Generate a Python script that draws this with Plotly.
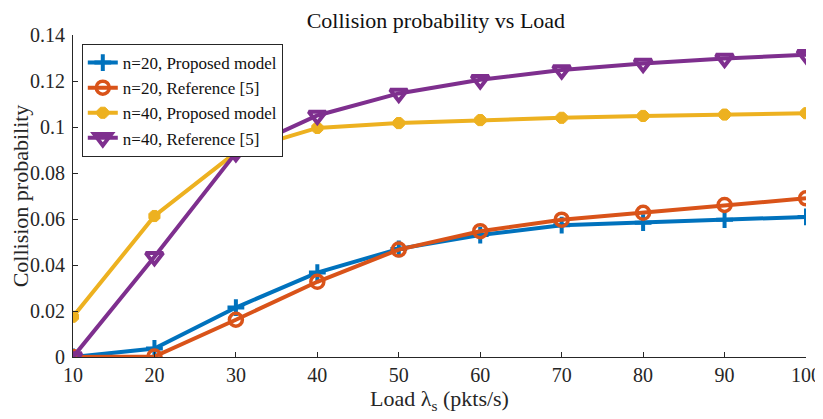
import plotly.graph_objects as go

load = [10, 20, 30, 40, 50, 60, 70, 80, 90, 100]
n20_proposed = [0.0, 0.0037, 0.0215, 0.0367, 0.0470, 0.0530, 0.0573, 0.0584, 0.0597, 0.0609]
n20_reference = [0.0, 0.0002, 0.0162, 0.0327, 0.0467, 0.0547, 0.0597, 0.0627, 0.0661, 0.0690]
n40_proposed = [0.0175, 0.0613, 0.0890, 0.0996, 0.1017, 0.1030, 0.1040, 0.1048, 0.1054, 0.1060]
n40_reference = [0.0, 0.0436, 0.0888, 0.1050, 0.1146, 0.1205, 0.1248, 0.1276, 0.1298, 0.1314]

x_ticks = [10, 20, 30, 40, 50, 60, 70, 80, 90, 100]
y_ticks = [0, 0.02, 0.04, 0.06, 0.08, 0.10, 0.12, 0.14]
y_tick_labels = ["0", "0.02", "0.04", "0.06", "0.08", "0.1", "0.12", "0.14"]

FONT = "Liberation Serif, Times New Roman, serif"
INK = "#262626"

series = [
    ("n=20, Proposed model", n20_proposed, "#0072BD", dict(symbol="cross-thin-open", size=12, line=dict(width=4, color="#0072BD"))),
    ("n=20, Reference [5]", n20_reference, "#D95319", dict(symbol="circle-open", size=13, line=dict(width=3.5, color="#D95319"))),
    ("n=40, Proposed model", n40_proposed, "#EDB120", dict(symbol="octagon", size=12, color="#EDB120", line=dict(width=1, color="#EDB120"))),
    ("n=40, Reference [5]", n40_reference, "#7E2F8E", dict(symbol="triangle-down-open", size=15, line=dict(width=4, color="#7E2F8E"))),
]

fig = go.Figure()
for name, ys, color, marker in series:
    fig.add_trace(go.Scatter(
        x=load, y=ys, name=name, mode="lines+markers",
        line=dict(color=color, width=4),
        marker=marker,
    ))

# page body has an 8px margin, so the figure is 8px smaller than the window
fig.update_layout(
    width=815, height=411,
    paper_bgcolor="white", plot_bgcolor="white",
    margin=dict(l=65, r=17, t=27, b=62, autoexpand=False),
    font=dict(family=FONT, size=20, color=INK),
    title=dict(text="Collision probability vs Load", x=0.525, xanchor="center",
               y=0.971, yanchor="middle", font=dict(family=FONT, size=22, color="#111111")),
    showlegend=True,
    legend=dict(x=0.012, y=0.972, xanchor="left", yanchor="top",
                bgcolor="white", bordercolor=INK, borderwidth=1,
                font=dict(family=FONT, size=17, color="#111111"),
                itemwidth=30, tracegroupgap=0),
)
fig.update_xaxes(
    range=[10, 100], tickvals=x_ticks, showgrid=False, zeroline=False,
    showline=True, linecolor=INK, linewidth=1, automargin=False,
    ticks="inside", ticklen=5, tickcolor=INK,
    tickfont=dict(family=FONT, size=20, color=INK),
    ticklabelstandoff=0,
    title=dict(text="Load λ<sub>s</sub> (pkts/s)", font=dict(family=FONT, size=22, color=INK), standoff=0),
)
fig.update_yaxes(
    range=[0, 0.14], tickvals=y_ticks, ticktext=y_tick_labels, showgrid=False, zeroline=False,
    showline=True, linecolor=INK, linewidth=1, automargin=False,
    ticks="inside", ticklen=5, tickcolor=INK,
    tickfont=dict(family=FONT, size=20, color=INK),
    ticklabelstandoff=3,
    title=dict(text="Collision probability", font=dict(family=FONT, size=22, color=INK), standoff=3),
)

fig.write_html("out.html")
